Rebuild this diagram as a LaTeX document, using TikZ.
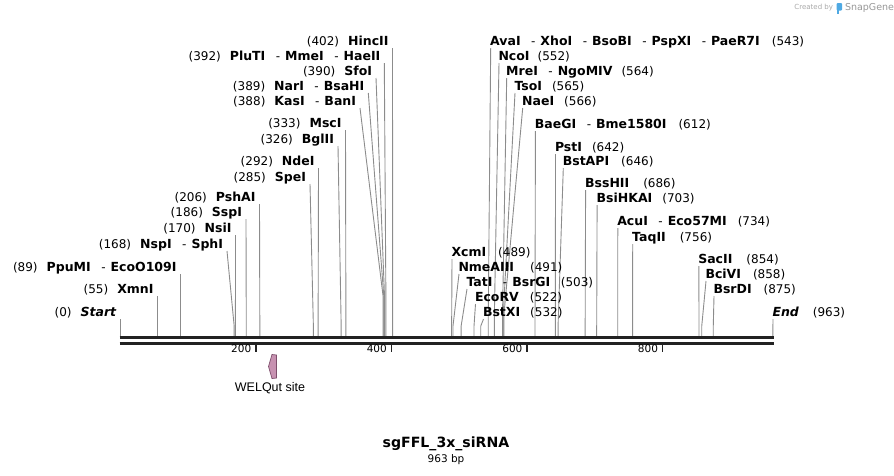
\documentclass[tikz,border=0pt]{standalone}
\usepackage{fontspec}
\setmainfont{DejaVu Sans}
\newfontfamily\welqfont{Liberation Sans}
\definecolor{siteg}{HTML}{8C8C8C}
\definecolor{bbone}{HTML}{222222}
\definecolor{featfill}{HTML}{C792B1}
\definecolor{featdraw}{HTML}{7E4F6C}
\definecolor{logog}{HTML}{A8A8A8}
\definecolor{logob}{HTML}{4FA9E3}
\newcommand\nm[1]{{\fontsize{12.5}{14}\selectfont\bfseries #1}}
\newcommand\nb[1]{{\fontsize{12}{14}\selectfont #1}}
\newcommand\sepd{\hspace{10.5pt}{\fontsize{12}{14}\selectfont -}\hspace{5pt}}
\newcommand\gapL{\hspace{9pt}}
\tikzset{
  siteline/.style={draw=siteg,line width=0.9pt},
  lbl/.style={inner sep=0pt,outer sep=0pt},
  bbline/.style={draw=bbone,line width=3pt},
  tickmark/.style={draw=bbone,line width=1.6pt},
}
\newcommand\siteL[6]{%
  \pgfmathsetmacro\bx{120.2+0.6778*#2}
  \coordinate (#1-t) at (#4,#3+7);
  \coordinate (#1-k) at (\bx,#5);
  \coordinate (#1-b) at (\bx,336);
  \node[lbl,anchor=base east] (#1) at (#4-4,#3+4.5) {#6};
  \draw[siteline] (#1-t) -- (#1-k) -- (#1-b);
}
\newcommand\siteR[6]{%
  \pgfmathsetmacro\bx{120.2+0.6778*#2}
  \coordinate (#1-t) at (#4,#3+7);
  \coordinate (#1-k) at (\bx,#5);
  \coordinate (#1-b) at (\bx,336);
  \node[lbl,anchor=base west] (#1) at (#4-0.5,#3+4.5) {#6};
  \draw[siteline] (#1-t) -- (#1-k) -- (#1-b);
}
\begin{document}
\begin{tikzpicture}[x=1pt,y=-1pt]
\useasboundingbox (0,0) rectangle (894,475);
% left-hand sites
\siteL{start}{0}{312}{120.2}{326}{\nb{(0)}\gapL\nm{\itshape Start}}
\siteL{xmn}{55}{289}{157.5}{326}{\nb{(55)}\gapL\nm{XmnI}}
\siteL{ppu}{89}{267}{180.5}{326}{\nb{(89)}\gapL\nm{PpuMI}\sepd\nm{EcoO109I}}
\siteL{nsp}{168}{244}{227}{325}{\nb{(168)}\gapL\nm{NspI}\sepd\nm{SphI}}
\siteL{nsi}{170}{228}{235.5}{326}{\nb{(170)}\gapL\nm{NsiI}}
\siteL{ssp}{186}{212}{246}{326}{\nb{(186)}\gapL\nm{SspI}}
\siteL{psh}{206}{197}{259.5}{326}{\nb{(206)}\gapL\nm{PshAI}}
\siteL{spe}{285}{177}{310}{326}{\nb{(285)}\gapL\nm{SpeI}}
\siteL{nde}{292}{161}{318.5}{326}{\nb{(292)}\gapL\nm{NdeI}}
\siteL{bgl}{326}{139}{338}{326}{\nb{(326)}\gapL\nm{BglII}}
\siteL{msc}{333}{123}{345.5}{326}{\nb{(333)}\gapL\nm{MscI}}
\siteL{kas}{388}{101}{360}{297}{\nb{(388)}\gapL\nm{KasI}\sepd\nm{BanI}}
\siteL{nar}{389}{86}{368.3}{297}{\nb{(389)}\gapL\nm{NarI}\sepd\nm{BsaHI}}
\siteL{sfo}{390}{71}{376}{297}{\nb{(390)}\gapL\nm{SfoI}}
\siteL{plu}{392}{56}{384.3}{297}{\nb{(392)}\gapL\nm{PluTI}\sepd\nm{MmeI}\sepd\nm{HaeII}}
\siteL{hinc}{402}{41}{392.5}{326}{\nb{(402)}\gapL\nm{HincII}}
% right-hand sites
\siteR{ava}{543}{41}{490.7}{316}{\nm{AvaI}\sepd\nm{XhoI}\sepd\nm{BsoBI}\sepd\nm{PspXI}\sepd\nm{PaeR7I}\hspace{12pt}\nb{(543)}}
\siteR{nco}{552}{56}{499}{316}{\nm{NcoI}\hspace{8pt}\nb{(552)}}
\siteR{mre}{564}{71}{506.7}{316}{\nm{MreI}\sepd\nm{NgoMIV}\hspace{9pt}\nb{(564)}}
\siteR{tso}{565}{86}{515}{316}{\nm{TsoI}\hspace{10pt}\nb{(565)}}
\siteR{nae}{566}{101}{522.7}{316}{\nm{NaeI}\hspace{10pt}\nb{(566)}}
\siteR{bae}{612}{124}{535.4}{326}{\nm{BaeGI}\sepd\nm{Bme1580I}\hspace{12pt}\nb{(612)}}
\siteR{pst}{642}{147}{555.5}{326}{\nm{PstI}\hspace{10pt}\nb{(642)}}
\siteR{bstap}{646}{161}{563.3}{326}{\nm{BstAPI}\hspace{12pt}\nb{(646)}}
\siteR{bss}{686}{183}{585.6}{326}{\nm{BssHII}\hspace{14pt}\nb{(686)}}
\siteR{bsi}{703}{198}{597.1}{326}{\nm{BsiHKAI}\hspace{10pt}\nb{(703)}}
\siteR{acu}{734}{221}{617.8}{326}{\nm{AcuI}\sepd\nm{Eco57MI}\hspace{11pt}\nb{(734)}}
\siteR{taq}{756}{237}{632.7}{326}{\nm{TaqII}\hspace{14pt}\nb{(756)}}
\siteR{sac}{854}{259}{698.8}{326}{\nm{SacII}\hspace{14pt}\nb{(854)}}
\siteR{bci}{858}{274}{706}{326}{\nm{BciVI}\hspace{12pt}\nb{(858)}}
\siteR{bsr}{875}{289}{714}{326}{\nm{BsrDI}\hspace{12pt}\nb{(875)}}
\siteR{end}{963}{312}{773}{326}{\nm{\itshape End}\hspace{14pt}\nb{(963)}}
\siteR{xcm}{489}{252}{452}{326}{\nm{XcmI}\hspace{12pt}\nb{(489)}}
\siteR{nme}{491}{267}{459}{326}{\nm{NmeAIII}\hspace{16pt}\nb{(491)}}
\siteR{tat}{503}{282}{467}{326}{\nm{TatI}\sepd\nm{BsrGI}\hspace{10.5pt}\nb{(503)}}
\siteR{eco}{522}{297}{475.5}{326}{\nm{EcoRV}\hspace{11pt}\nb{(522)}}
\siteR{bstx}{532}{312}{483.5}{326}{\nm{BstXI}\hspace{10pt}\nb{(532)}}
% backbone
\coordinate (bbL1) at (119.5,337.8);
\coordinate (bbR1) at (774,337.8);
\coordinate (bbL2) at (119.5,343.6);
\coordinate (bbR2) at (774,343.6);
\draw[bbline] (bbL1) -- (bbR1);
\draw[bbline] (bbL2) -- (bbR2);
% ticks
\foreach \t in {200,400,600,800}{
  \pgfmathsetmacro\tx{120.2+0.6778*\t}
  \coordinate (tk\t) at (\tx,345);
  \coordinate (tke\t) at (\tx,352);
  \draw[tickmark] (tk\t) -- (tke\t);
  \node[lbl,anchor=base east,font=\fontsize{10.5}{12}\selectfont] (tl\t) at (\tx-4.5,352.5) {\t};
}
% feature
\draw[fill=featfill,draw=featdraw,line width=0.7pt]
  (276.5,355) -- (276.5,378) -- (272,378.5) -- (268.5,366.5) -- (272,354.5) -- cycle;
\node[lbl,font=\welqfont\fontsize{12.5}{14}\selectfont] (welq) at (270,388.5) {WELQut site};
% title
\node[lbl,font=\fontsize{14.1}{16}\bfseries\selectfont] (title) at (446,443.5) {sgFFL\_3x\_siRNA};
\node[lbl,font=\fontsize{10.5}{12}\selectfont] (bp) at (446,459.5) {963 bp};
% logo
\node[lbl,anchor=east,text=logog,font=\fontsize{7}{8}\selectfont] (cre) at (833,8) {Created by};
\fill[logob,rounded corners=1pt] (836.5,3) rectangle (842,10.5);
\fill[logob] (836.5,9) rectangle (839,14);
\node[lbl,anchor=west,text=logog!90!black,font=\fontsize{9.5}{11}\selectfont] (snap) at (845,8) {SnapGene};
\end{tikzpicture}
\end{document}
